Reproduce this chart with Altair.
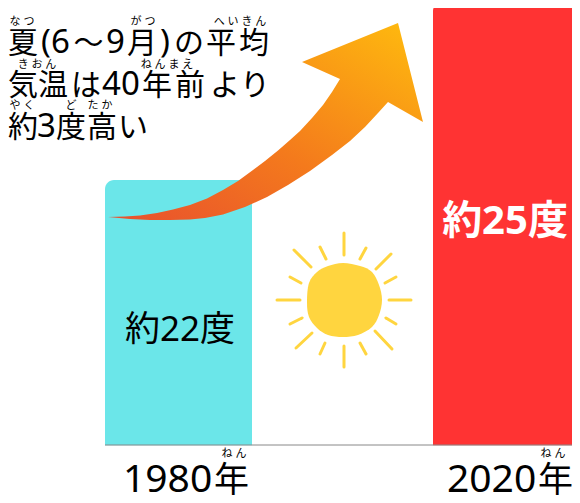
import altair as alt
import pandas as pd

W, H = 564, 487
FONT = "Noto Sans, Noto Sans CJK JP"

# bars: temperature values, position in picture units
bar_temps = [22, 25]
bar_left = [105, 433]
bar_right = [252, 580]
bar_colors = ["#6BE6E9", "#FF3333"]

# illustration outlines, in picture units
arrow_x = [108, 125, 140, 157, 173, 190, 207, 223, 238, 253, 265, 278, 290, 300, 312, 323, 332, 340,
           302, 398, 423,
           388, 378, 365, 350, 332, 310, 288, 267, 245, 223, 205, 190, 170, 150, 130]
arrow_y = [217, 216.5, 215.5, 213, 209.5, 205, 198.5, 190, 181, 170, 161, 150.5, 140, 131, 118, 105, 92, 79,
           62, 23, 122,
           102, 113, 127, 141, 155, 171, 185, 197, 207, 214.5, 218, 219.5, 220, 220, 219]
sun_x = [343, 360, 372, 379, 382, 379, 372, 358, 343, 328, 317, 309, 307, 309, 317, 328]
sun_y = [263, 266, 272, 285, 300, 315, 327, 335, 337, 335, 328, 317, 302, 283, 272, 266]
ray_x1 = [344, 320, 366, 294, 391, 290, 396, 277, 389, 290, 396, 296, 392, 320, 366, 344]
ray_y1 = [233, 247, 248, 250, 254, 277, 277, 300, 300, 324, 324, 348, 349, 354, 354, 346]
ray_x2 = [344, 326, 360, 311, 376, 301, 385, 300, 411, 302, 386, 312, 375, 325, 360, 344]
ray_y2 = [255, 259, 259, 267, 269, 283, 283, 300, 300, 318, 318, 333, 331, 343, 343, 367]

main_text = ["夏", "～", "月", "の", "平", "均",
             "気", "温", "は", "年", "前", "よ", "り",
             "約", "度", "高", "い"]
main_x = [8, 73.5, 127, 174, 206, 239,
          8, 38, 71, 142, 175, 210, 240,
          8, 56, 87, 118]
main_y = [53] * 6 + [95] * 7 + [137] * 4

digit_text = ["(6", "9", ")", "40", "3"]
digit_x = [41, 106, 160, 102, 37]
digit_y = [53, 53, 53, 95, 137]

ruby_text = ["な つ", "が つ", "へ い き ん", "き お ん", "ね ん ま え", "や く", "ど", "た か", "ね ん", "ね ん"]
ruby_x = [22, 143, 240, 37, 167, 22, 71, 100, 234, 553]
ruby_y = [22, 22, 22, 65, 65, 106, 106, 106, 454, 454]

value_text = ["約22度", "約25度"]
value_x = [180, 505]
value_y = [330, 222]

year_text = ["1980", "2020"]
year_x = [123, 447]
year_kanji = ["年", "年"]
year_kanji_x = [214, 538]
year_y = [492, 492]

x_scale = alt.Scale(domain=[8, 572], range=[0, W], nice=False)
py_scale = alt.Scale(domain=[495, 8], range=[H, 0], nice=False)
# y pixel 445 is the baseline (17.53 deg), 59.33 px per degree
temp_scale = alt.Scale(domain=[16.69, 24.9], range=[H, 0], clamp=False, nice=False, zero=False)

X = lambda f, **k: alt.X(f, type="quantitative", scale=x_scale, axis=None, **k)
Y = lambda f: alt.Y(f, type="quantitative", scale=py_scale, axis=None)

bars = pd.DataFrame({"t": bar_temps, "x1": bar_left, "x2": bar_right,
                     "base": [17.53, 17.53], "c": bar_colors})
bar_layer = alt.Chart(bars).mark_bar(cornerRadiusTopLeft=9, cornerRadiusTopRight=9, clip=False).encode(
    x=X("x1"), x2="x2",
    y=alt.Y("t", type="quantitative", scale=temp_scale, axis=None),
    y2="base",
    color=alt.Color("c", type="nominal", scale=None),
)

base_rule = alt.Chart(pd.DataFrame({"a": [105], "b": [580], "y": [445]})).mark_rule(
    color="#888888", strokeWidth=1).encode(x=X("a"), x2="b", y=Y("y"))

gradient = alt.LinearGradient(
    gradient="linear", x1=0, y1=1, x2=1, y2=0,
    stops=[alt.GradientStop(color="#E8502E", offset=0),
           alt.GradientStop(color="#F47A1C", offset=0.45),
           alt.GradientStop(color="#FFBC0E", offset=1)])
arrow = pd.DataFrame({"x": arrow_x, "y": arrow_y, "i": range(len(arrow_x))})
arrow_layer = alt.Chart(arrow).mark_line(fill=gradient, strokeWidth=0, interpolate="linear-closed").encode(
    x=X("x"), y=Y("y"), order="i:Q")

sun = pd.DataFrame({"x": sun_x, "y": sun_y, "i": range(len(sun_x))})
sun_layer = alt.Chart(sun).mark_line(fill="#FFD53F", strokeWidth=0, interpolate="cardinal-closed").encode(
    x=X("x"), y=Y("y"), order="i:Q")

rays = pd.DataFrame({"a": ray_x1, "b": ray_x2, "c": ray_y1, "d": ray_y2})
ray_layer = alt.Chart(rays).mark_rule(color="#FFD53F", strokeWidth=3, strokeCap="round").encode(
    x=X("a"), x2="b", y=Y("c"), y2="d")

def text_layer(texts, xs, ys, **mark):
    df = pd.DataFrame({"t": texts, "x": xs, "y": ys})
    return alt.Chart(df).mark_text(font=FONT, **mark).encode(x=X("x"), y=Y("y"), text="t:N")

layers = [
    bar_layer, base_rule, sun_layer, ray_layer, arrow_layer,
    text_layer(main_text, main_x, main_y, fontSize=30, align="left", baseline="alphabetic", color="#000000"),
    text_layer(digit_text, digit_x, digit_y, fontSize=33, align="left", baseline="alphabetic", color="#000000"),
    text_layer(ruby_text, ruby_x, ruby_y, fontSize=11, align="center", baseline="middle", color="#000000"),
    text_layer(value_text[:1], value_x[:1], value_y[:1], fontSize=35, align="center", baseline="middle", color="#000000"),
    text_layer(value_text[1:], value_x[1:], value_y[1:], fontSize=40, fontWeight="bold", align="center", baseline="middle", color="#FFFFFF"),
    text_layer(year_text, year_x, year_y, fontSize=39, align="left", baseline="alphabetic", color="#000000"),
    text_layer(year_kanji, year_kanji_x, year_y, fontSize=35, align="left", baseline="alphabetic", color="#000000"),
]

chart = alt.layer(*layers).resolve_scale(y="independent", x="shared").properties(
    width=W, height=H, padding=0, autosize=alt.AutoSizeParams(type="none"), background="#FFFFFF"
).configure_view(stroke=None)

chart.save("out.html", embed_options={"renderer": "svg", "actions": False})
